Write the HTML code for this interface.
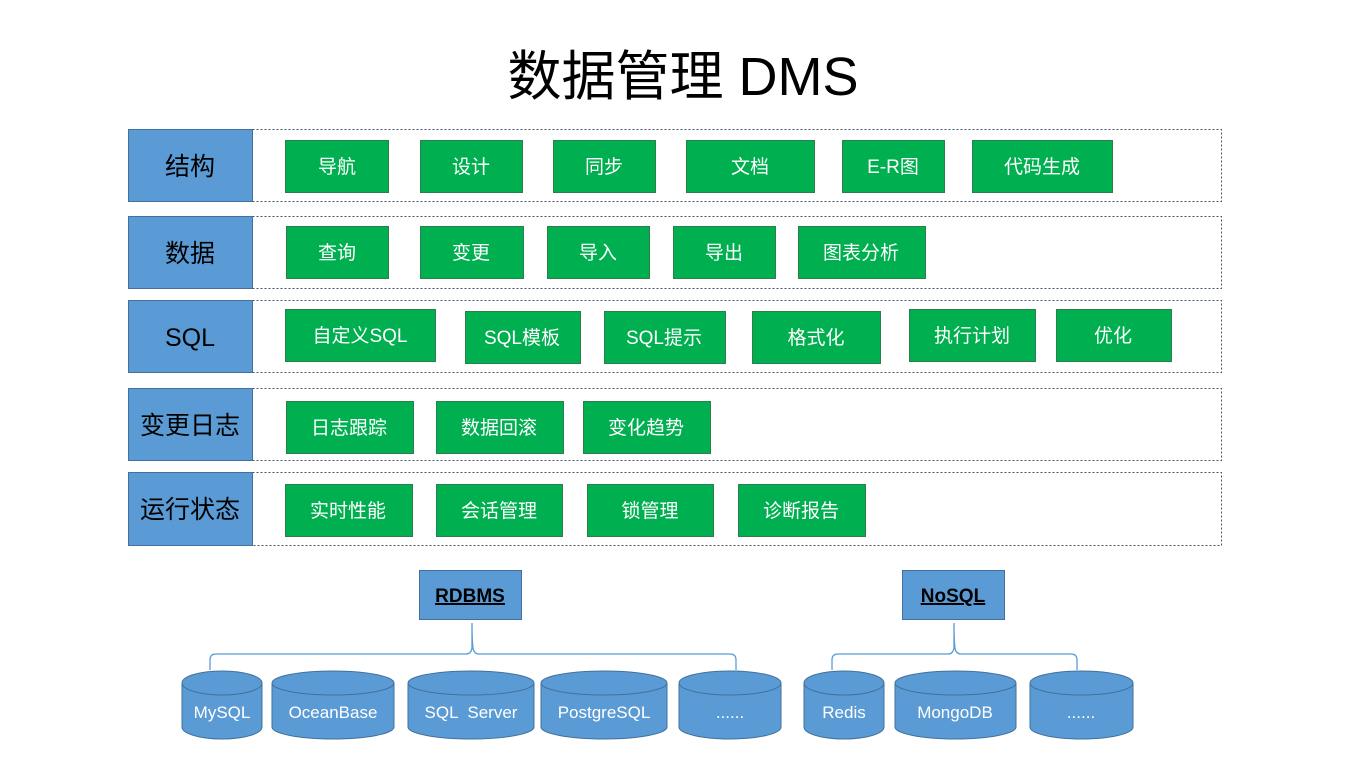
<!DOCTYPE html>
<html><head><meta charset="utf-8"><style>
html,body{margin:0;padding:0;background:#fff;}
svg{display:block}
text{font-family:"Liberation Sans","Noto Sans CJK SC",sans-serif;}
</style></head><body>
<svg width="1366" height="768" viewBox="0 0 1366 768" xmlns="http://www.w3.org/2000/svg">
<text x="683" y="95" font-size="54" text-anchor="middle" fill="#000">数据管理 DMS</text>

<g fill="none" stroke="#44546a" stroke-width="1" stroke-dasharray="2,2">
<rect x="128.5" y="129.5" width="1093" height="72"/>
<rect x="128.5" y="216.5" width="1093" height="72"/>
<rect x="128.5" y="300.5" width="1093" height="72"/>
<rect x="128.5" y="388.5" width="1093" height="72"/>
<rect x="128.5" y="472.5" width="1093" height="73"/>
</g>
<g fill="#5b9bd5" stroke="#41719c" stroke-width="1">
<rect x="128.5" y="129.5" width="124" height="72"/>
<rect x="128.5" y="216.5" width="124" height="72"/>
<rect x="128.5" y="300.5" width="124" height="72"/>
<rect x="128.5" y="388.5" width="124" height="72"/>
<rect x="128.5" y="472.5" width="124" height="73"/>
</g>
<g font-size="25" fill="#000" text-anchor="middle">
<text x="190" y="175">结构</text>
<text x="190" y="262">数据</text>
<text x="190" y="346">SQL</text>
<text x="190" y="434">变更日志</text>
<text x="190" y="518">运行状态</text>
</g>

<g fill="#00b050" stroke="#2f7d4a" stroke-width="1">
<rect x="285.5" y="140.5" width="103" height="52"/>
<rect x="420.5" y="140.5" width="102" height="52"/>
<rect x="553.5" y="140.5" width="102" height="52"/>
<rect x="686.5" y="140.5" width="128" height="52"/>
<rect x="842.5" y="140.5" width="102" height="52"/>
<rect x="972.5" y="140.5" width="140" height="52"/>

<rect x="286.5" y="226.5" width="102" height="52"/>
<rect x="420.5" y="226.5" width="103" height="52"/>
<rect x="547.5" y="226.5" width="102" height="52"/>
<rect x="673.5" y="226.5" width="102" height="52"/>
<rect x="798.5" y="226.5" width="127" height="52"/>

<rect x="285.5" y="309.5" width="150" height="52"/>
<rect x="465.5" y="311.5" width="115" height="52"/>
<rect x="604.5" y="311.5" width="121" height="52"/>
<rect x="752.5" y="311.5" width="128" height="52"/>
<rect x="909.5" y="309.5" width="126" height="52"/>
<rect x="1056.5" y="309.5" width="115" height="52"/>

<rect x="286.5" y="401.5" width="127" height="52"/>
<rect x="436.5" y="401.5" width="127" height="52"/>
<rect x="583.5" y="401.5" width="127" height="52"/>

<rect x="285.5" y="484.5" width="127" height="52"/>
<rect x="436.5" y="484.5" width="126" height="52"/>
<rect x="587.5" y="484.5" width="126" height="52"/>
<rect x="738.5" y="484.5" width="127" height="52"/>
</g>
<g font-size="19" fill="#fff" text-anchor="middle">
<text x="337" y="173">导航</text>
<text x="471" y="173">设计</text>
<text x="604" y="173">同步</text>
<text x="750" y="173">文档</text>
<text x="893" y="173">E-R图</text>
<text x="1042" y="173">代码生成</text>

<text x="337" y="259">查询</text>
<text x="471" y="259">变更</text>
<text x="598" y="259">导入</text>
<text x="724" y="259">导出</text>
<text x="861" y="259">图表分析</text>

<text x="360" y="342">自定义SQL</text>
<text x="522" y="344">SQL模板</text>
<text x="664" y="344">SQL提示</text>
<text x="816" y="344">格式化</text>
<text x="972" y="342">执行计划</text>
<text x="1113" y="342">优化</text>

<text x="349" y="434">日志跟踪</text>
<text x="499" y="434">数据回滚</text>
<text x="646" y="434">变化趋势</text>

<text x="348" y="517">实时性能</text>
<text x="499" y="517">会话管理</text>
<text x="650" y="517">锁管理</text>
<text x="801" y="517">诊断报告</text>
</g>

<g fill="#5b9bd5" stroke="#41719c" stroke-width="1">
<rect x="419.5" y="570.5" width="102" height="49"/>
<rect x="902.5" y="570.5" width="102" height="49"/>
</g>
<g font-size="19" font-weight="bold" fill="#000" text-anchor="middle" text-decoration="underline">
<text x="470" y="602" text-decoration="underline">RDBMS</text>
<text x="953" y="602" text-decoration="underline">NoSQL</text>
</g>
<g fill="none" stroke="#5b9bd5" stroke-width="1.3">
<path d="M210,670 V660 Q210,654 216,654 H466 Q471,654 472,648 Q472,640 472,623 Q472,640 473,648 Q474,654 479,654 H730 Q736,654 736,660 V670"/>
<path d="M832,670 V660 Q832,654 838,654 H948 Q953,654 954,648 Q954,640 954,623 Q954,640 955,648 Q956,654 961,654 H1071 Q1077,654 1077,660 V670"/>
</g>

<g fill="#5b9bd5" stroke="#41719c" stroke-width="1">
<g id="c"></g>
<path d="M182,683 V727 A40,12 0 0 0 262,727 V683"/><ellipse cx="222" cy="683" rx="40" ry="12"/>
<path d="M272,683 V727 A61,12 0 0 0 394,727 V683"/><ellipse cx="333" cy="683" rx="61" ry="12"/>
<path d="M408,683 V727 A63,12 0 0 0 534,727 V683"/><ellipse cx="471" cy="683" rx="63" ry="12"/>
<path d="M541,683 V727 A63,12 0 0 0 667,727 V683"/><ellipse cx="604" cy="683" rx="63" ry="12"/>
<path d="M679,683 V727 A51,12 0 0 0 781,727 V683"/><ellipse cx="730" cy="683" rx="51" ry="12"/>
<path d="M804,683 V727 A40,12 0 0 0 884,727 V683"/><ellipse cx="844" cy="683" rx="40" ry="12"/>
<path d="M895,683 V727 A60.5,12 0 0 0 1016,727 V683"/><ellipse cx="955.5" cy="683" rx="60.5" ry="12"/>
<path d="M1030,683 V727 A51.5,12 0 0 0 1133,727 V683"/><ellipse cx="1081.5" cy="683" rx="51.5" ry="12"/>
</g>
<g font-size="17" fill="#fff" text-anchor="middle">
<text x="222" y="718">MySQL</text>
<text x="333" y="718">OceanBase</text>
<text x="471" y="718" xml:space="preserve">SQL  Server</text>
<text x="604" y="718">PostgreSQL</text>
<text x="730" y="718">......</text>
<text x="844" y="718">Redis</text>
<text x="955" y="718">MongoDB</text>
<text x="1081" y="718">......</text>
</g>
</svg>
</body></html>
